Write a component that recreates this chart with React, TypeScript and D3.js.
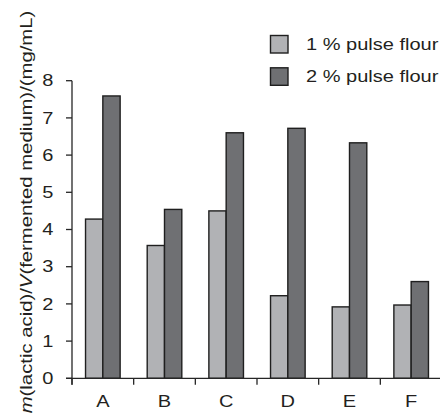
import React from "react";
import * as d3 from "d3";

const categories = ["A", "B", "C", "D", "E", "F"];
const seriesNames = ["1 % pulse flour", "2 % pulse flour"];
const pulse1 = [4.28, 3.57, 4.5, 2.22, 1.92, 1.97];
const pulse2 = [7.59, 4.54, 6.6, 6.72, 6.33, 2.6];
const yTicks = [0, 1, 2, 3, 4, 5, 6, 7, 8];
const colors = ["#b1b2b5", "#6f7073"];

const W = 440;
const H = 414;
const FONT = "'Liberation Sans', Arial, Helvetica, sans-serif";
const SX = 1.25; // the source font is drawn wide

const App: React.FC = () => {
  const x = d3.scaleBand<string>().domain(categories).range([72, 442]).padding(0);
  const y = d3.scaleLinear().domain([0, 8]).range([378.3, 80.7]);
  const barW = 17.3;
  const bw = x.bandwidth();
  const x1 = d3
    .scaleBand<string>()
    .domain(seriesNames)
    .range([bw / 2 - barW, bw / 2 + barW])
    .padding(0);

  const values = [pulse1, pulse2];
  const axisColor = "#262626";
  const x0 = x.range()[0];
  const y0 = y(0);

  // band boundaries for the x ticks
  const boundaries = categories.map((c) => x(c) as number).concat([x.range()[1]]);

  return (
    <div style={{ position: "absolute", left: 0, top: 0 }}>
      <svg width={W} height={H} style={{ display: "block" }} fontFamily={FONT}>
        <rect width={W} height={H} fill="#fff" />

        {/* bars */}
        {seriesNames.map((s, si) => (
          <g key={s}>
            {categories.map((c, ci) => (
              <rect
                key={c}
                x={(x(c) as number) + (x1(s) as number)}
                y={y(values[si][ci])}
                width={x1.bandwidth()}
                height={y0 - y(values[si][ci])}
                fill={colors[si]}
                stroke="#1f1f1f"
                strokeWidth={1.4}
              />
            ))}
          </g>
        ))}

        {/* y axis */}
        <line x1={x0} x2={x0} y1={y(8)} y2={y0 + 6.5} stroke={axisColor} strokeWidth={1.3} />
        {yTicks.map((t) => (
          <g key={t}>
            <line x1={x0 - 6} x2={x0} y1={y(t)} y2={y(t)} stroke={axisColor} strokeWidth={1.3} />
            <text
              transform={`translate(53.5,${y(t)}) scale(${SX},1)`}
              textAnchor="end"
              dy="0.35em"
              fontSize={16}
              fill="#231f20"
            >
              {t}
            </text>
          </g>
        ))}

        {/* x axis */}
        <line x1={x0 - 6} x2={x.range()[1]} y1={y0} y2={y0} stroke={axisColor} strokeWidth={1.3} />
        {boundaries.map((b, i) => (
          <line key={i} x1={b} x2={b} y1={y0} y2={y0 + 6.5} stroke={axisColor} strokeWidth={1.3} />
        ))}
        {categories.map((c) => (
          <text
            key={c}
            transform={`translate(${(x(c) as number) + bw / 2},406.8) scale(${SX},1)`}
            textAnchor="middle"
            fontSize={16}
            fill="#231f20"
          >
            {c}
          </text>
        ))}

        {/* y label */}
        <text
          transform={`translate(31.5,212) rotate(-90) scale(1.27,1)`}
          textAnchor="middle"
          fontSize={16}
          fill="#231f20"
        >
          <tspan fontStyle="italic">m</tspan>
          <tspan>(lactic acid)/</tspan>
          <tspan fontStyle="italic">V</tspan>
          <tspan>(fermented medium)/(mg/mL)</tspan>
        </text>

        {/* legend */}
        {seriesNames.map((s, i) => (
          <g key={s} transform={`translate(0,${i * 32.3})`}>
            <rect
              x={270.5}
              y={35.5}
              width={17.5}
              height={17.5}
              fill={colors[i]}
              stroke="#1f1f1f"
              strokeWidth={1.4}
            />
            <text
              transform={`translate(306,49.8) scale(${SX},1)`}
              fontSize={16}
              fill="#231f20"
            >
              {s}
            </text>
          </g>
        ))}
      </svg>
    </div>
  );
};

export default App;
